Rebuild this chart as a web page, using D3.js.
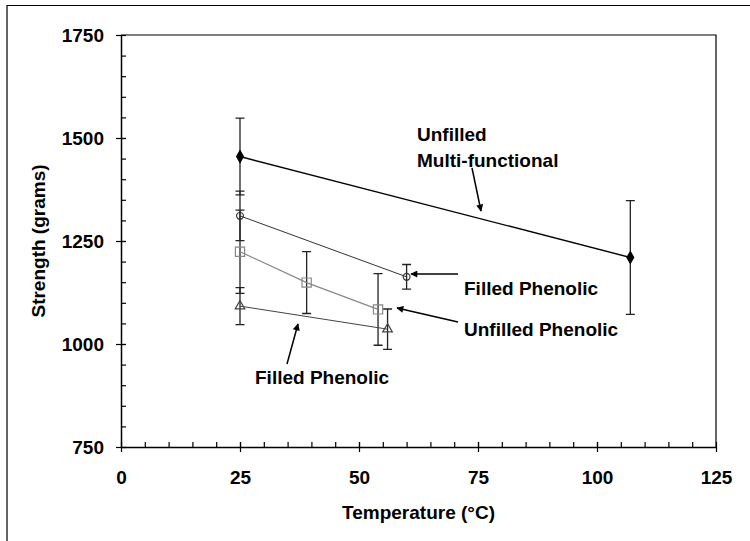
<!DOCTYPE html>
<html>
<head>
<meta charset="utf-8">
<script src="https://cdn.jsdelivr.net/npm/d3@7"></script>
<style>
  body { margin: 0; background: #fff; }
  svg text { font-family: "Liberation Sans", Arial, sans-serif; font-weight: bold; }
</style>
</head>
<body>
<svg id="chart" width="750" height="541"></svg>
<script>
// temperatures (°C), strengths (grams) and error bar half-widths per series
var multiTemp = [25, 107],
  multiStrength = [1455, 1210],
  multiErr = [93, 138];

var filledTemp = [25, 60],
  filledStrength = [1311, 1163],
  filledErr = [60, 30];

var unfilledTemp = [25, 39, 54],
  unfilledStrength = [1224, 1149, 1084],
  unfilledErr = [101, 75, 87];

var filled2Temp = [25, 56],
  filled2Strength = [1092, 1036],
  filled2Err = [45, 49];

var xTicks = [0, 25, 50, 75, 100, 125],
  yTicks = [750, 1000, 1250, 1500, 1750];

function zip(t, s, e) {
  return t.map(function(d, i) { return {x: d, y: s[i], e: e[i]}; });
}

var series = [
  {name: 'multi', pts: zip(multiTemp, multiStrength, multiErr), line: '#000', lw: 1.4, marker: 'diamond', mstroke: '#000', mfill: '#000'},
  {name: 'filled', pts: zip(filledTemp, filledStrength, filledErr), line: '#333', lw: 1, marker: 'circle', mstroke: '#333', mfill: 'none'},
  {name: 'unfilled', pts: zip(unfilledTemp, unfilledStrength, unfilledErr), line: '#888', lw: 1.2, marker: 'square', mstroke: '#888', mfill: 'none'},
  {name: 'filled2', pts: zip(filled2Temp, filled2Strength, filled2Err), line: '#444', lw: 1, marker: 'triangle', mstroke: '#444', mfill: 'none'}
];

var svg = d3.select('#chart');

// outer chart frame (right and bottom edges fall off the picture)
svg.append('path')
  .attr('d', 'M7,545V5.5H760')
  .attr('fill', 'none')
  .attr('stroke', '#000')
  .attr('stroke-width', 1.2);

var x = d3.scaleLinear().domain([0, 125]).range([121, 716]);
var y = d3.scaleLinear().domain([750, 1750]).range([447, 35]);

// plot box
svg.append('path')
  .attr('d', 'M' + x(0) + ',' + y(1750) + 'H' + x(125) + 'V' + y(750))
  .attr('fill', 'none')
  .attr('stroke', '#000')
  .attr('stroke-width', 1.2);

// minor ticks
svg.append('g')
  .attr('transform', 'translate(0,' + y(750) + ')')
  .call(d3.axisBottom(x).tickValues(d3.range(5, 125, 5)).tickSize(-5).tickFormat(''))
  .call(function(g) { g.select('.domain').remove(); });

svg.append('g')
  .attr('transform', 'translate(' + x(0) + ',0)')
  .call(d3.axisLeft(y).tickValues(d3.range(800, 1750, 50)).tickSize(-5).tickFormat(''))
  .call(function(g) { g.select('.domain').remove(); });

// major axes
var xAxis = svg.append('g')
  .attr('transform', 'translate(0,' + y(750) + ')')
  .call(d3.axisBottom(x).tickValues(xTicks).tickSize(5).tickPadding(18.5).tickSizeOuter(0).tickFormat(d3.format('d')));
xAxis.selectAll('.tick line').attr('y1', -5);

var yAxis = svg.append('g')
  .attr('transform', 'translate(' + x(0) + ',0)')
  .call(d3.axisLeft(y).tickValues(yTicks).tickSize(5).tickPadding(12).tickSizeOuter(0).tickFormat(d3.format('d')));
yAxis.selectAll('.tick line').attr('x1', 5);

svg.selectAll('.tick line').attr('stroke', '#000').attr('stroke-width', 1.2);
svg.selectAll('.domain').attr('stroke', '#000').attr('stroke-width', 1.5);
svg.selectAll('.tick text').attr('font-size', 19).attr('fill', '#000');

// axis titles
svg.append('text')
  .attr('x', (x(0) + x(125)) / 2)
  .attr('y', 519)
  .attr('text-anchor', 'middle')
  .attr('font-size', 19)
  .text('Temperature (°C)');

svg.append('text')
  .attr('transform', 'translate(45,' + (y(750) + y(1750)) / 2 + ') rotate(-90)')
  .attr('text-anchor', 'middle')
  .attr('font-size', 19)
  .text('Strength (grams)');

// error bars
var capW = 4.5;
series.forEach(function(s) {
  var g = svg.append('g').classed('err-' + s.name, true);
  g.selectAll('path')
    .data(s.pts)
    .enter()
    .append('path')
    .attr('d', function(d) {
      var cx = x(d.x), t = y(d.y + d.e), b = y(d.y - d.e);
      return 'M' + cx + ',' + t + 'V' + b +
        'M' + (cx - capW) + ',' + t + 'H' + (cx + capW) +
        'M' + (cx - capW) + ',' + b + 'H' + (cx + capW);
    })
    .attr('fill', 'none')
    .attr('stroke', '#222')
    .attr('stroke-width', 1.3);
});

// lines
var line = d3.line().x(function(d) { return x(d.x); }).y(function(d) { return y(d.y); });
series.forEach(function(s) {
  svg.append('path')
    .datum(s.pts)
    .attr('d', line)
    .attr('fill', 'none')
    .attr('stroke', s.line)
    .attr('stroke-width', s.lw);
});

// markers
var symbolTypes = {
  diamond: {type: d3.symbolDiamond, size: 40},
  circle: {type: d3.symbolCircle, size: 36},
  square: {type: d3.symbolSquare, size: 85},
  triangle: {type: d3.symbolTriangle, size: 40}
};
series.forEach(function(s) {
  var sym = symbolTypes[s.marker];
  svg.append('g')
    .selectAll('path')
    .data(s.pts)
    .enter()
    .append('path')
    .attr('transform', function(d) { return 'translate(' + x(d.x) + ',' + y(d.y) + ')'; })
    .attr('d', d3.symbol().type(sym.type).size(sym.size))
    .attr('fill', s.mfill === 'none' ? '#fff' : s.mfill)
    .attr('fill-opacity', s.mfill === 'none' ? 0 : 1)
    .attr('stroke', s.mstroke)
    .attr('stroke-width', 1.2);
});

// annotations
var notes = [
  {lines: ['Unfilled', 'Multi-functional'], x: 417, y: 141},
  {lines: ['Filled Phenolic'], x: 464, y: 295},
  {lines: ['Unfilled Phenolic'], x: 464, y: 336},
  {lines: ['Filled Phenolic'], x: 255, y: 384}
];
notes.forEach(function(n) {
  var t = svg.append('text')
    .attr('x', n.x)
    .attr('y', n.y)
    .attr('font-size', 19);
  n.lines.forEach(function(l, i) {
    t.append('tspan').attr('x', n.x).attr('dy', i ? 25.5 : 0).text(l);
  });
});

svg.append('defs').append('marker')
  .attr('id', 'arrow')
  .attr('viewBox', '0 0 10 10')
  .attr('refX', 9)
  .attr('refY', 5)
  .attr('markerWidth', 10)
  .attr('markerHeight', 7)
  .attr('markerUnits', 'userSpaceOnUse')
  .attr('orient', 'auto')
  .append('path')
  .attr('d', 'M0,0L10,5L0,10z')
  .attr('fill', '#000');

var arrows = [
  [472, 168, 481, 211],
  [458, 274, 411, 274],
  [458, 322, 397, 308],
  [287, 364, 298, 324]
];
svg.append('g')
  .selectAll('line')
  .data(arrows)
  .enter()
  .append('line')
  .attr('x1', function(d) { return d[0]; })
  .attr('y1', function(d) { return d[1]; })
  .attr('x2', function(d) { return d[2]; })
  .attr('y2', function(d) { return d[3]; })
  .attr('stroke', '#000')
  .attr('stroke-width', 1.5)
  .attr('marker-end', 'url(#arrow)');
</script>
</body>
</html>
